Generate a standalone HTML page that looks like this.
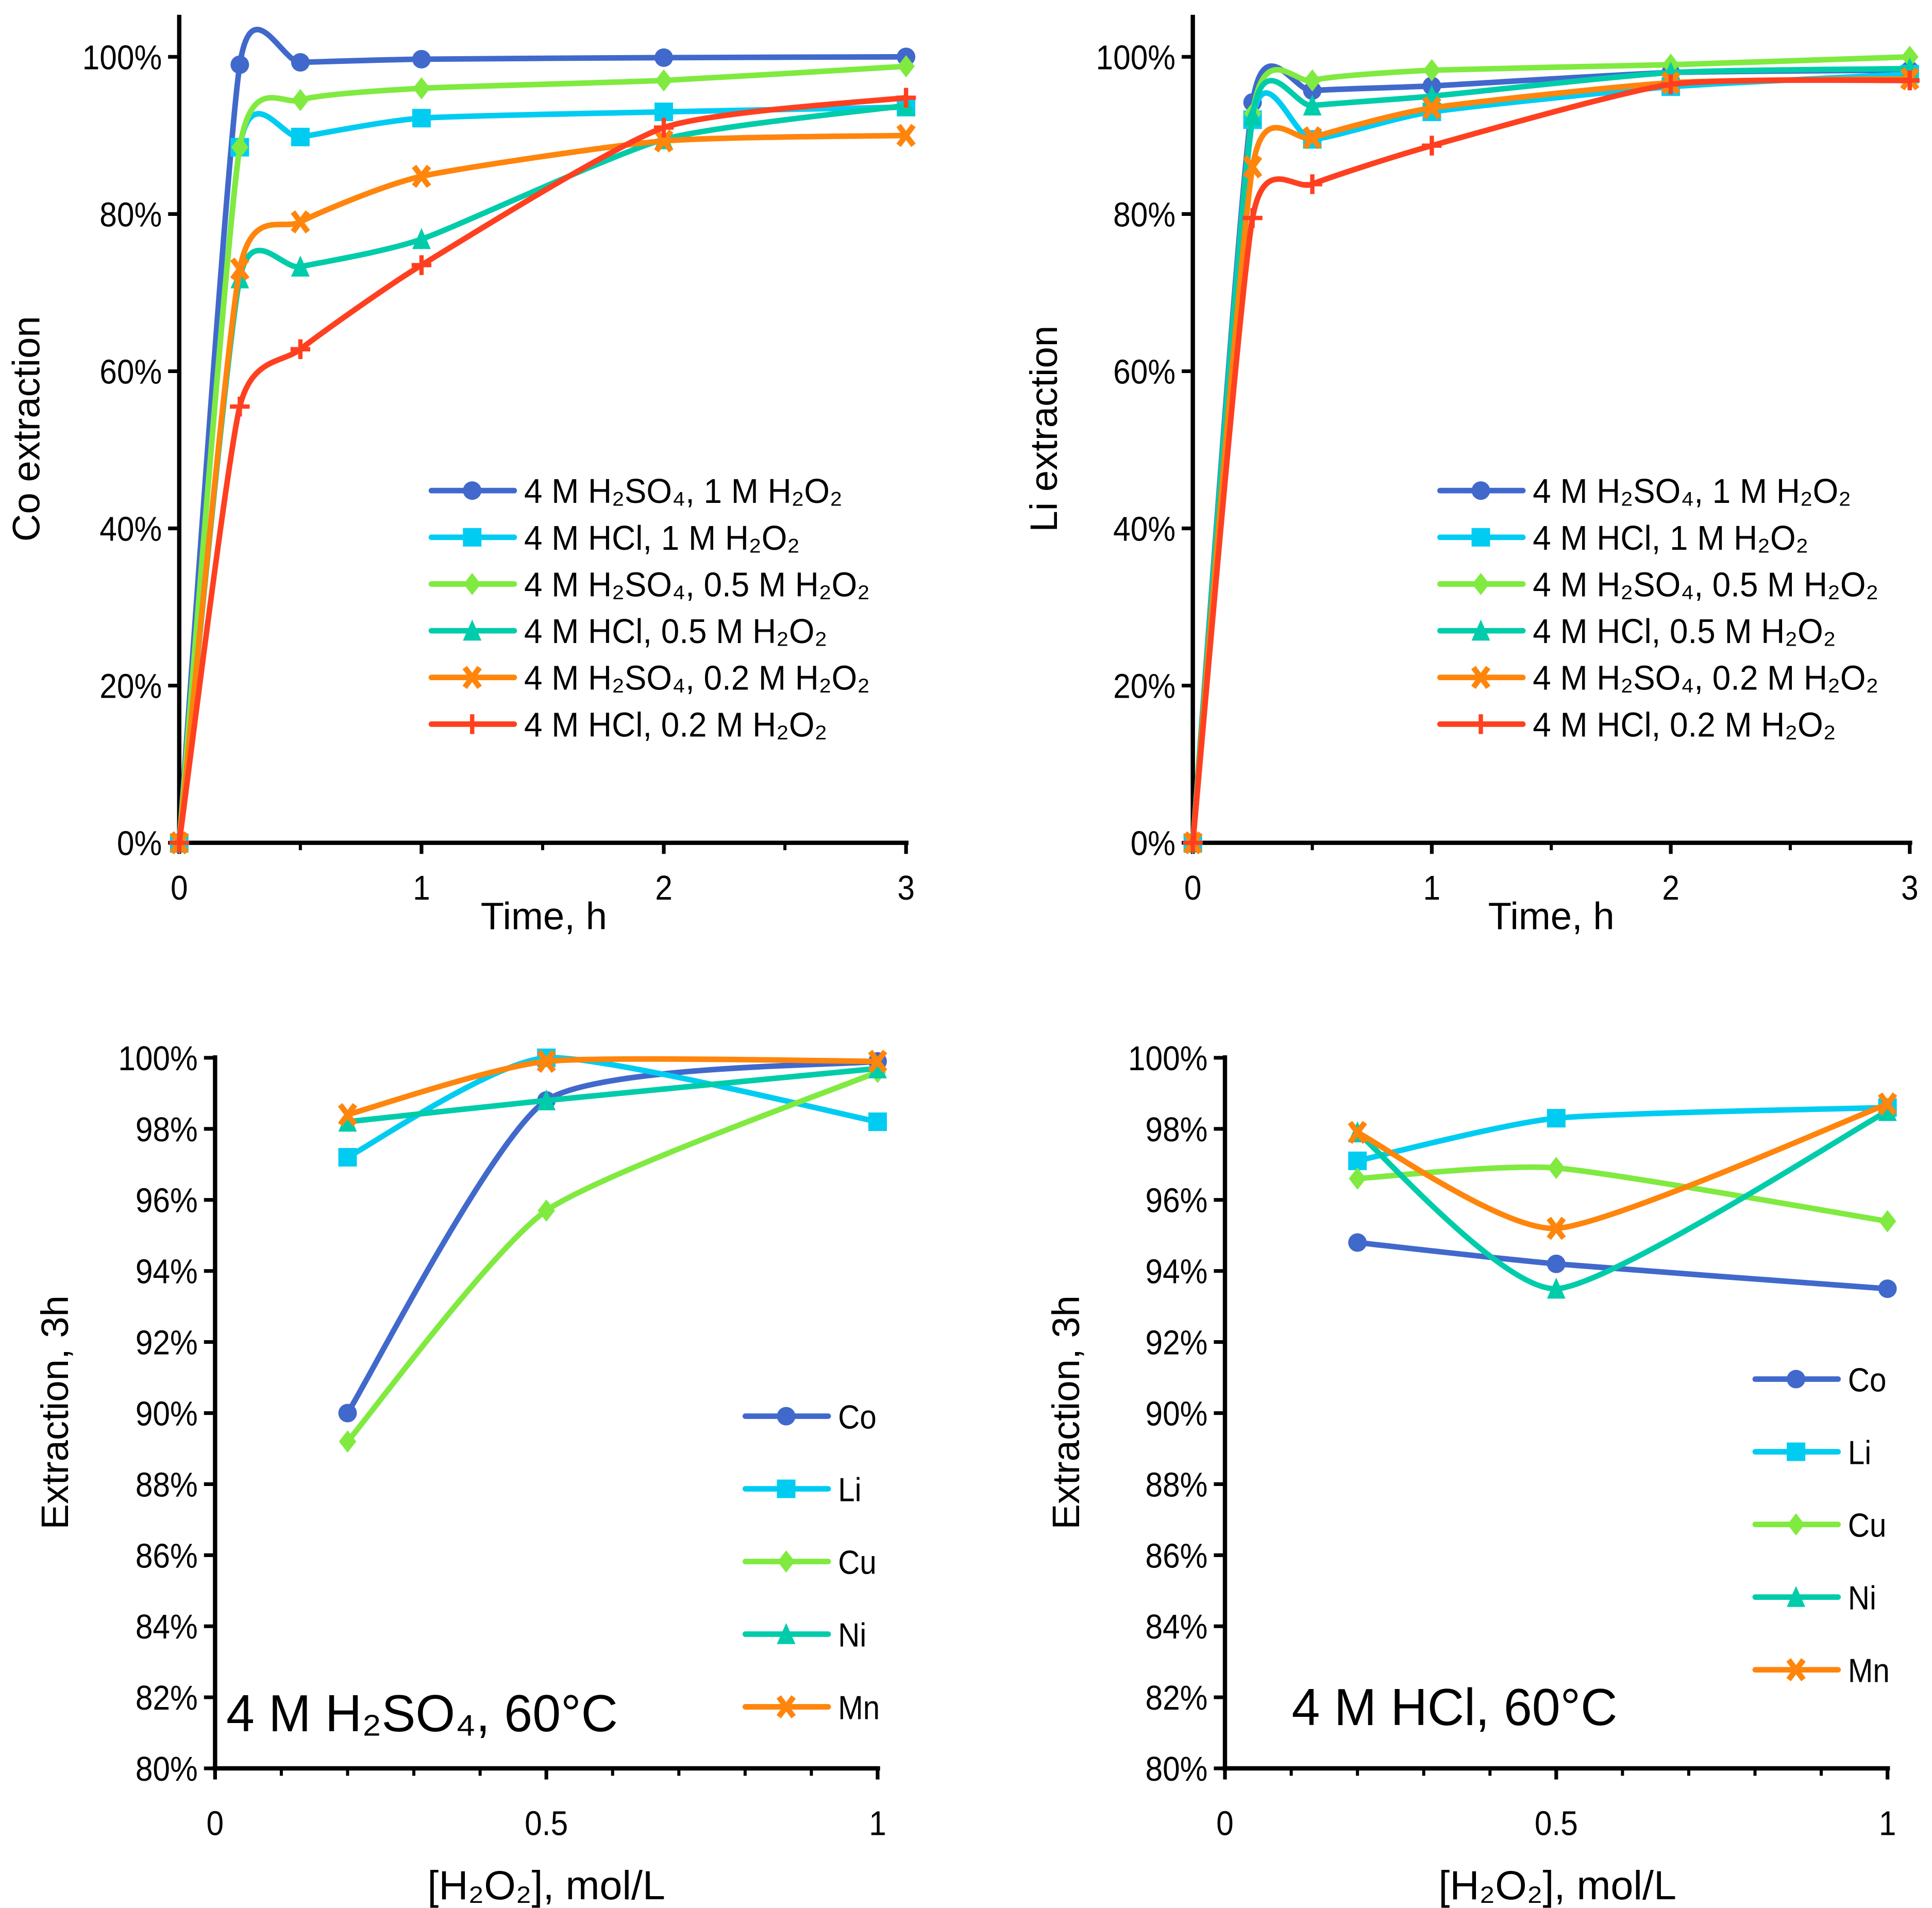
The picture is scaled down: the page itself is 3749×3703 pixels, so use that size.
<!DOCTYPE html>
<html><head><meta charset="utf-8"><style>
html,body{margin:0;padding:0;background:#fff}
svg{display:block}
text{font-family:"Liberation Sans",sans-serif;fill:#000}
</style></head><body>
<svg id="s" width="3749" height="3703" viewBox="0 0 1563 1544" preserveAspectRatio="none" xmlns="http://www.w3.org/2000/svg"></svg>
<script>
const times = [0, 0.25, 0.5, 1, 2, 3];
const seriesNamesTop = ["4 M H₂SO₄, 1 M H₂O₂","4 M HCl, 1 M H₂O₂","4 M H₂SO₄, 0.5 M H₂O₂","4 M HCl, 0.5 M H₂O₂","4 M H₂SO₄, 0.2 M H₂O₂","4 M HCl, 0.2 M H₂O₂"];
const coS1 = [0, 99, 99.3, 99.7, 99.9, 100];
const coS2 = [0, 88.5, 89.8, 92.2, 93, 93.6];
const coS3 = [0, 88.5, 94.5, 96, 97, 98.8];
const coS4 = [0, 71.8, 73.3, 76.8, 89.5, 93.8];
const coS5 = [0, 73, 79, 84.8, 89.3, 90];
const coS6 = [0, 55.5, 62.8, 73.5, 91, 94.8];
const liS1 = [0, 94.2, 95.7, 96.3, 98, 98.3];
const liS2 = [0, 92, 89.5, 93, 96.2, 97.8];
const liS3 = [0, 92.8, 97, 98.3, 99, 100];
const liS4 = [0, 92.5, 93.8, 95, 98, 98.5];
const liS5 = [0, 86, 89.7, 93.5, 96.7, 97.2];
const liS6 = [0, 79.5, 83.8, 88.7, 96.5, 97];
const topYTicks = [0, 20, 40, 60, 80, 100];
const topXTicks = [0, 1, 2, 3];
const conc = [0.2, 0.5, 1];
const metals = ["Co","Li","Cu","Ni","Mn"];
const sulCo = [90, 98.8, 99.9];
const sulLi = [97.2, 100, 98.2];
const sulCu = [89.2, 95.7, 99.6];
const sulNi = [98.2, 98.8, 99.7];
const sulMn = [98.4, 99.9, 99.9];
const hclCo = [94.8, 94.2, 93.5];
const hclLi = [97.1, 98.3, 98.6];
const hclCu = [96.6, 96.9, 95.4];
const hclNi = [97.9, 93.5, 98.5];
const hclMn = [97.9, 95.2, 98.7];
const botYTicks = [80, 82, 84, 86, 88, 90, 92, 94, 96, 98, 100];
const botXTicks = [0, 0.5, 1];

const colors = ["#4169CC","#00CCF2","#80EA40","#00CCAA","#FF850C","#FF4020"];
const markers = ["circle","square","diamond","triangle","x","plus"];
const NS = "http://www.w3.org/2000/svg";
const svg = document.getElementById("s");
function el(tag, attrs, parent){const e=document.createElementNS(NS,tag);for(const k in attrs)e.setAttribute(k,attrs[k]);(parent||svg).appendChild(e);return e;}
function txt(x,y,s,size,anchor,parent,rot,sx){const t=el("text",{x:x,y:y,"font-size":size,"text-anchor":anchor||"start"},parent);
  const f=sx||0.9;
  let tr=`translate(${x} ${y}) `+(rot?"rotate(-90) ":"")+`scale(${f} 1) translate(${-x} ${-y})`;
  t.setAttribute("transform",tr);t.textContent=s;return t;}
function spline(pts){let d=`M${pts[0][0]},${pts[0][1]}`;for(let i=0;i<pts.length-1;i++){const p0=pts[i-1]||pts[i],p1=pts[i],p2=pts[i+1],p3=pts[i+2]||p2;const t=0.3/3;d+=` C${p1[0]+(p2[0]-p0[0])*t},${p1[1]+(p2[1]-p0[1])*t} ${p2[0]-(p3[0]-p1[0])*t},${p2[1]-(p3[1]-p1[1])*t} ${p2[0]},${p2[1]}`;}return d;}
function marker(g,type,x,y,c){
  if(type==="circle")el("circle",{cx:x,cy:y,r:7.5,fill:c},g);
  else if(type==="square")el("rect",{x:x-7.5,y:y-7.5,width:15,height:15,fill:c},g);
  else if(type==="diamond")el("path",{d:`M${x},${y-9}L${x+7},${y}L${x},${y+9}L${x-7},${y}Z`,fill:c},g);
  else if(type==="triangle")el("path",{d:`M${x},${y-9}L${x+7.5},${y+8}L${x-7.5},${y+8}Z`,fill:c},g);
  else if(type==="x")el("path",{d:`M${x-6},${y-8}L${x+6},${y+8}M${x+6},${y-8}L${x-6},${y+8}`,stroke:c,"stroke-width":4.5,fill:"none"},g);
  else el("path",{d:`M${x-8},${y}L${x+8},${y}M${x},${y-8}L${x},${y+8}`,stroke:c,"stroke-width":3.5,fill:"none"},g);
}
function panel(o){
  const g=el("g",{});
  
  
  const X=v=>o.x0+(v-o.xmin)/(o.xmax-o.xmin)*(o.x1-o.x0);
  const Y=v=>o.y0-(v-o.ymin)/(o.ymax-o.ymin)*(o.y0-o.y1);
  el("line",{x1:o.x0,y1:o.yTop,x2:o.x0,y2:o.y0+1,stroke:"#000","stroke-width":3.5},g);
  el("line",{x1:o.x0-2,y1:o.y0,x2:o.x1+2,y2:o.y0,stroke:"#000","stroke-width":3.5},g);
  o.yTicks.forEach(v=>{el("line",{x1:o.x0-9,y1:Y(v),x2:o.x0,y2:Y(v),stroke:"#000","stroke-width":3},g);
    const t=txt(o.x0-14,Y(v)+10,v+"%",o.tickSize,"end",g);});
  o.xTicks.forEach(v=>{el("line",{x1:X(v),y1:o.y0,x2:X(v),y2:o.y0+9,stroke:"#000","stroke-width":3},g);
    const t=txt(X(v),o.y0+o.xlabOff,String(v),o.tickSize,"middle",g);});
  for(let v=o.xmin+o.minor;v<o.xmax-1e-9;v+=o.minor){el("line",{x1:X(v),y1:o.y0,x2:X(v),y2:o.y0+6,stroke:"#000","stroke-width":2.5},g);}
  const xt=txt(o.xtx,o.xty,o.xtitle,o.xtSize,"middle",g,false,1.0);
  const yt=txt(o.ytx,o.yty,o.ytitle,31,"middle",g,true,1.0);
  o.series.forEach((s,i)=>{
    const sg=el("g",{},g);
    
    
    const pts=o.xs.map((x,j)=>[X(x),Y(s[j])]);
    el("path",{d:spline(pts),fill:"none",stroke:colors[i],"stroke-width":4.5,"stroke-linejoin":"round"},sg);
    pts.forEach(p=>marker(sg,markers[i],p[0],p[1],colors[i]));
  });
  o.names.forEach((n,i)=>{
    const lg=el("g",{},g);
    
    
    const y=o.legY+i*o.legDy;
    el("line",{x1:o.legX,y1:y,x2:o.legX+67,y2:y,stroke:colors[i],"stroke-width":4.5,"stroke-linecap":"round"},lg);
    marker(lg,markers[i],o.legX+33,y,colors[i]);
    txt(o.legX+75,y+10,n,o.legSize,"start",lg,false,o.legSx);
  });
  return g;
}
panel({name:"co-extraction-chart",x0:145,x1:733,y0:682,y1:46,yTop:12,xmin:0,xmax:3,ymin:0,ymax:100,yTicks:topYTicks,xTicks:topXTicks,minor:0.5,xlabOff:46,tickSize:28,
  xtitle:"Time, h",xtx:440,xty:752,xtSize:31,ytitle:"Co extraction",ytx:32,yty:347,xs:times,
  series:[coS1,coS2,coS3,coS4,coS5,coS6],names:seriesNamesTop,legX:349,legY:397,legDy:37.8,legSize:28,legSx:0.95});
panel({name:"li-extraction-chart",x0:965,x1:1545,y0:682,y1:46,yTop:12,xmin:0,xmax:3,ymin:0,ymax:100,yTicks:topYTicks,xTicks:topXTicks,minor:0.5,xlabOff:46,tickSize:28,
  xtitle:"Time, h",xtx:1255,xty:752,xtSize:31,ytitle:"Li extraction",ytx:855,yty:347,xs:times,
  series:[liS1,liS2,liS3,liS4,liS5,liS6],names:seriesNamesTop,legX:1165,legY:397,legDy:37.8,legSize:28,legSx:0.95});
panel({name:"h2so4-chart",x0:174,x1:710,y0:1431,y1:856,yTop:854,xmin:0,xmax:1,ymin:80,ymax:100,yTicks:botYTicks,xTicks:botXTicks,minor:0.1,xlabOff:54,tickSize:28,
  xtitle:"[H₂O₂], mol/L",xtx:442,xty:1537,xtSize:33,ytitle:"Extraction, 3h",ytx:55,yty:1143,xs:conc,
  series:[sulCo,sulLi,sulCu,sulNi,sulMn],names:metals,legX:603,legY:1146,legDy:58.8,legSize:27,legSx:0.9});
panel({name:"hcl-chart",x0:991,x1:1527,y0:1431,y1:856,yTop:854,xmin:0,xmax:1,ymin:80,ymax:100,yTicks:botYTicks,xTicks:botXTicks,minor:0.1,xlabOff:54,tickSize:28,
  xtitle:"[H₂O₂], mol/L",xtx:1260,xty:1537,xtSize:33,ytitle:"Extraction, 3h",ytx:873,yty:1143,xs:conc,
  series:[hclCo,hclLi,hclCu,hclNi,hclMn],names:metals,legX:1420,legY:1116,legDy:58.8,legSize:27,legSx:0.9});
const a=txt(183,1401,"4 M H₂SO₄, 60°C",42,"start",null,false,0.98);


const b=txt(1045,1396,"4 M HCl, 60°C",42,"start",null,false,0.98);


</script>
</body></html>
